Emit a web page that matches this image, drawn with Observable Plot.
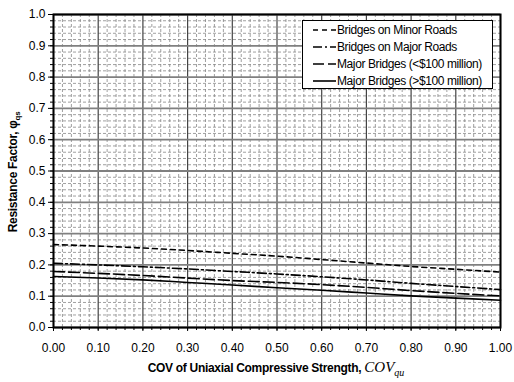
<!DOCTYPE html>
<html><head><meta charset="utf-8">
<script src="https://cdn.jsdelivr.net/npm/d3@7"></script>
<script src="https://cdn.jsdelivr.net/npm/@observablehq/plot@0.6"></script>
<style>
body{margin:0;background:#fff}
</style>
</head><body><div id="chart"></div>
<script>
const cov = [0.0,0.1,0.2,0.3,0.4,0.5,0.6,0.7,0.8,0.9,1.0];
const minorRoads = [0.265,0.260,0.254,0.246,0.237,0.228,0.217,0.206,0.195,0.186,0.177];
const majorRoads = [0.205,0.200,0.194,0.187,0.179,0.171,0.162,0.152,0.141,0.131,0.121];
const majorLow   = [0.179,0.173,0.166,0.158,0.150,0.144,0.137,0.128,0.118,0.109,0.101];
const majorHigh  = [0.163,0.158,0.152,0.144,0.136,0.127,0.119,0.110,0.101,0.094,0.087];
const seriesNames = ["Bridges on Minor Roads","Bridges on Major Roads","Major Bridges (<$100 million)","Major Bridges (>$100 million)"];
const seriesValues = [minorRoads, majorRoads, majorLow, majorHigh];
const seriesDash = ["5,4","9,3,2,3","11,4",null];
const xTicks = d3.range(0, 11).map(i => i/10);
const yTicks = d3.range(0, 11).map(i => i/10);
const minorTicks = d3.range(0, 51).map(i => i/50);
const FONT = "'Liberation Sans', Arial, sans-serif";

const rows = [];
seriesValues.forEach((vals, s) => vals.forEach((v, i) => rows.push({x: cov[i], y: v, s})));

const marks = [
  Plot.ruleX(minorTicks.filter((d,i)=>i%5), {stroke:"#888", strokeWidth:0.8, strokeDasharray:"3,2"}),
  Plot.ruleY(minorTicks.filter((d,i)=>i%5), {stroke:"#888", strokeWidth:0.8, strokeDasharray:"3,2"}),
  Plot.ruleX(xTicks, {stroke:"#444", strokeWidth:1.2}),
  Plot.ruleY(yTicks, {stroke:"#808080", strokeWidth:1.8}),
  Plot.axisX(xTicks, {tickFormat: d3.format(".2f"), tickSize:4, tickPadding:12, fontSize:12, label:null, stroke:"#000"}),
  Plot.axisX(minorTicks, {tickFormat: () => "", tickSize:3, label:null, stroke:"#000"}),
  Plot.axisY(yTicks, {tickFormat: d3.format(".1f"), tickSize:5, tickPadding:3, fontSize:12, label:null, stroke:"#000"}),
  Plot.axisY(minorTicks, {tickFormat: () => "", tickSize:3, label:null, stroke:"#000"})
];
seriesValues.forEach((vals, s) => {
  marks.push(Plot.line(rows.filter(r => r.s === s), {x:"x", y:"y", stroke:"#000", strokeWidth:1.6, strokeDasharray: seriesDash[s], curve:"monotone-x"}));
});
marks.push(Plot.frame({stroke:"#000", strokeWidth:2}));

const chart = Plot.plot({
  width: 514, height: 382,
  marginLeft: 53, marginRight: 14, marginTop: 14, marginBottom: 55,
  x: {domain:[0,1]},
  y: {domain:[0,1]},
  style: {fontSize:"12px", fontFamily: FONT, color:"#000", background:"#fff"},
  marks
});
document.getElementById("chart").appendChild(chart);

const svg = d3.select(chart);
// axis titles
const xt = svg.append("text").attr("x", 276).attr("y", 372).attr("text-anchor","middle")
  .attr("font-size", 12).attr("font-weight","bold").attr("font-family", FONT);
xt.append("tspan").attr("letter-spacing", -0.3).text("COV of Uniaxial Compressive Strength, ");
xt.append("tspan").attr("font-family","'Liberation Serif','DejaVu Serif',serif").attr("font-style","italic").attr("font-weight","normal").attr("font-size",15).text("COV");
xt.append("tspan").attr("font-family","'Liberation Serif','DejaVu Serif',serif").attr("font-style","italic").attr("font-weight","normal").attr("font-size",10).attr("dy",4).text("qu");

const yt = svg.append("text").attr("transform","translate(17,172) rotate(-90)").attr("text-anchor","middle")
  .attr("font-size", 12).attr("font-weight","bold").attr("font-family", FONT).attr("letter-spacing", -0.3);
yt.append("tspan").text("Resistance Factor, φ");
yt.append("tspan").attr("font-size",8).attr("dy",3).text("qs");

// legend
const lg = svg.append("g").attr("text-anchor","start").attr("font-family", FONT);
lg.append("rect").attr("x",302.5).attr("y",20.5).attr("width",190).attr("height",68).attr("fill","#fff").attr("stroke","#000").attr("stroke-width",1);
seriesNames.forEach((name, i) => {
  const y = 30 + i*17;
  lg.append("line").attr("x1",313).attr("x2",336).attr("y1",y).attr("y2",y).attr("stroke","#000").attr("stroke-width",1.6)
    .attr("stroke-dasharray", seriesDash[i]);
  lg.append("text").attr("x",337).attr("y",y+4).attr("font-size",12).attr("letter-spacing",-0.4).attr("text-anchor","start").text(name);
});
</script>
</body></html>
